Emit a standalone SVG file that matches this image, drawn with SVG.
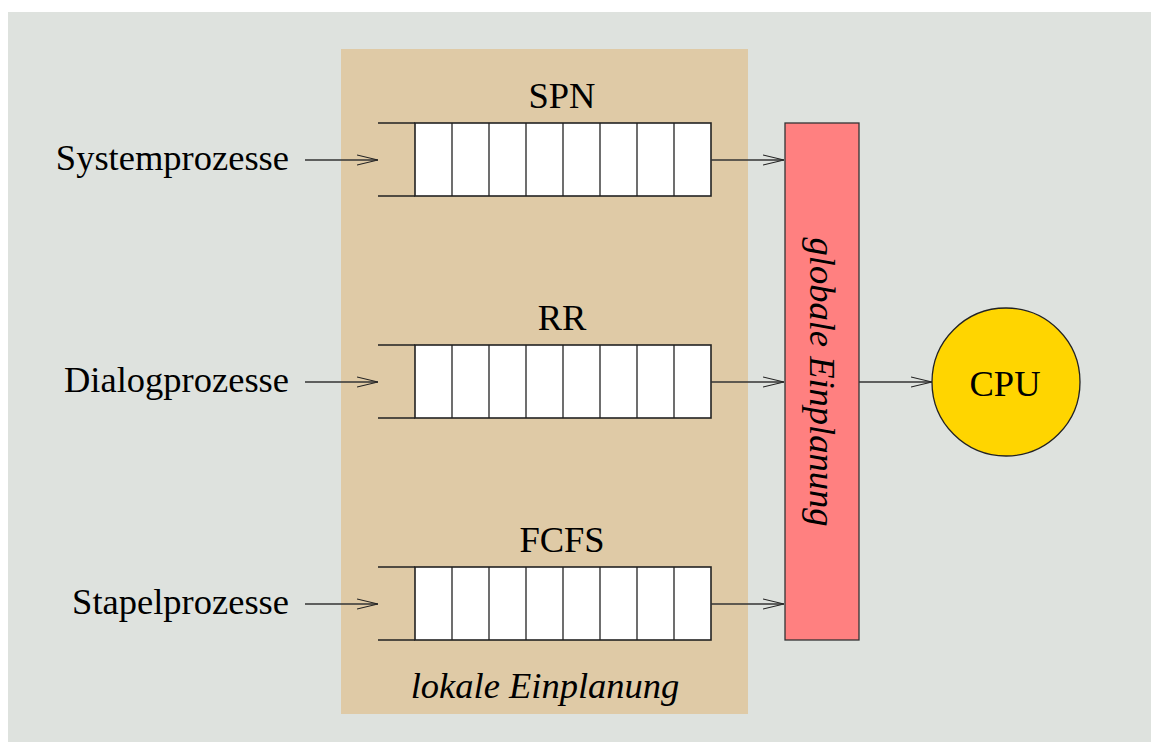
<svg xmlns="http://www.w3.org/2000/svg" width="1151" height="742" viewBox="0 0 1151 742">
<defs>
<marker id="arr" viewBox="0 0 21 12" refX="21" refY="6" markerWidth="21" markerHeight="12" markerUnits="userSpaceOnUse" orient="auto">
<path d="M0,1 L21,6 L0,11" fill="none" stroke="#222" stroke-width="1.2"/>
</marker>
<g id="q">
<path d="M378,0 H415 M378,73 H415" stroke="#222" stroke-width="1.4" fill="none"/>
<rect x="415" y="0" width="296" height="73" fill="#fff" stroke="#222" stroke-width="1.6"/>
<path d="M452,0 V73 M489,0 V73 M526,0 V73 M563,0 V73 M600,0 V73 M637,0 V73 M674,0 V73" stroke="#222" stroke-width="1.3"/>
</g>
</defs>
<style>
.t{font-family:"Liberation Serif","Times New Roman",serif;font-size:36.5px;fill:#000}
.i{font-style:italic}
.c{stroke:#333;stroke-width:1.3;fill:none;marker-end:url(#arr)}
</style>
<rect x="8" y="12" width="1143" height="730" fill="#dee2de"/>
<g id="lokal">
<rect x="341" y="49" width="407" height="665" fill="#dfcaa6"/>
<text class="t i" x="545" y="698" text-anchor="middle">lokale Einplanung</text>
</g>
<g id="spn">
<use href="#q" y="123"/>
<text class="t" x="562" y="108" text-anchor="middle">SPN</text>
</g>
<g id="rr">
<use href="#q" y="345"/>
<text class="t" x="562" y="330" text-anchor="middle">RR</text>
</g>
<g id="fcfs">
<use href="#q" y="567"/>
<text class="t" x="562" y="552" text-anchor="middle">FCFS</text>
</g>
<g id="sys"><text class="t" x="289" y="170" text-anchor="end">Systemprozesse</text></g>
<g id="dia"><text class="t" x="289" y="392" text-anchor="end">Dialogprozesse</text></g>
<g id="stapel"><text class="t" x="289" y="614" text-anchor="end">Stapelprozesse</text></g>
<g id="global">
<rect x="785" y="123" width="74" height="517" fill="#ff8080" stroke="#333" stroke-width="1.3"/>
<text class="t i" transform="translate(810,382) rotate(90)" text-anchor="middle">globale Einplanung</text>
</g>
<g id="cpu">
<circle cx="1006" cy="382" r="74" fill="#ffd500" stroke="#222" stroke-width="1.3"/>
<text class="t" x="1005" y="396" text-anchor="middle">CPU</text>
</g>
<g id="connectors">
<line class="c" x1="305" y1="160" x2="378" y2="160"/>
<line class="c" x1="305" y1="382" x2="378" y2="382"/>
<line class="c" x1="305" y1="604" x2="378" y2="604"/>
<line class="c" x1="711" y1="160" x2="784" y2="160"/>
<line class="c" x1="711" y1="382" x2="784" y2="382"/>
<line class="c" x1="711" y1="604" x2="784" y2="604"/>
<line class="c" x1="859" y1="382" x2="932" y2="382"/>
</g>
</svg>
